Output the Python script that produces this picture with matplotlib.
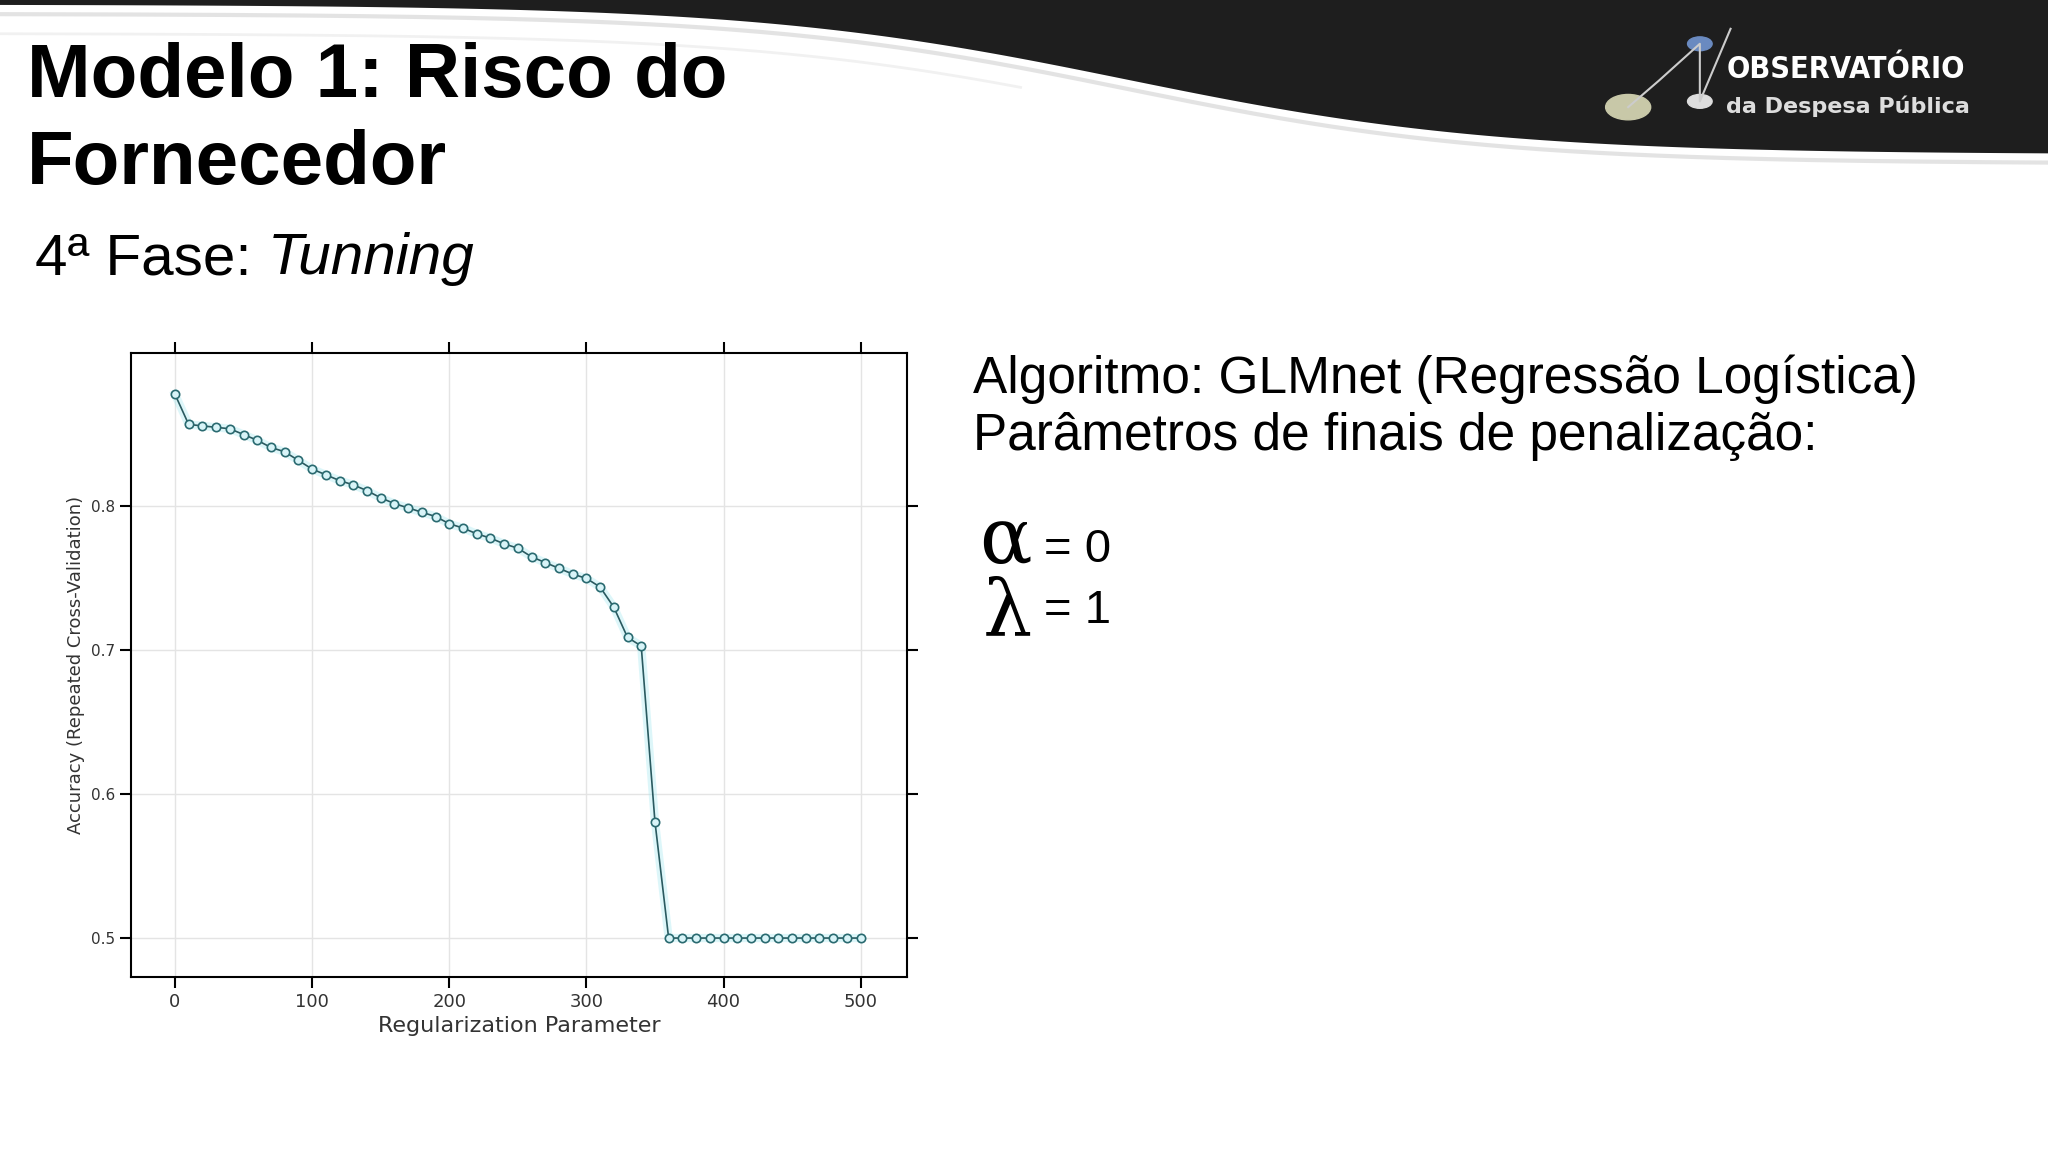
import matplotlib
matplotlib.use("Agg")
import matplotlib.pyplot as plt
import numpy as np
from matplotlib.patches import Polygon, Circle

reg_param = list(range(0, 510, 10))
accuracy = [0.878, 0.857, 0.856, 0.855, 0.854, 0.850, 0.846, 0.841, 0.838, 0.832,
            0.826, 0.822, 0.818, 0.815, 0.811, 0.806, 0.802, 0.799, 0.796, 0.793,
            0.788, 0.785, 0.781, 0.778, 0.774, 0.771, 0.765, 0.761, 0.757, 0.753,
            0.750, 0.744, 0.730, 0.709, 0.703, 0.581] + [0.5] * 15
xticks = [0, 100, 200, 300, 400, 500]
yticks = [0.5, 0.6, 0.7, 0.8]

fig = plt.figure(figsize=(20.48, 11.52), dpi=100)
fig.patch.set_facecolor("white")

# header swoosh
bg = fig.add_axes([0, 0, 1, 1], zorder=-5)
bg.set_xlim(0, 1); bg.set_ylim(0, 1); bg.axis("off")
xs = np.linspace(0, 1, 300)
depth = 0.004 + 0.13 * (1 / (1 + np.exp(-(xs - 0.55) / 0.09)))
lower = 1 - depth
poly = np.column_stack([np.r_[xs, 1, 0], np.r_[lower, 1, 1]])
bg.add_patch(Polygon(poly, closed=True, facecolor="#1e1e1e", edgecolor="none"))
bg.plot(xs, lower - 0.008, color="#c8c8c8", lw=3, alpha=0.5)
bg.plot(xs[:150], lower[:150] - 0.025, color="#dddddd", lw=2, alpha=0.4)
bg.add_patch(Circle((0.795, 0.907), 0.011, color="#c8c8a8"))
bg.add_patch(Circle((0.83, 0.912), 0.006, color="#dddddd"))
bg.add_patch(Circle((0.83, 0.962), 0.006, color="#6a8ac0"))
bg.plot([0.795, 0.81, 0.83, 0.83, 0.845], [0.907, 0.93, 0.962, 0.912, 0.975], color="#cccccc", lw=1.5)
bg.text(0.843, 0.94, "OBSERVATÓRIO", color="white", fontsize=22, fontweight="bold",
        family="Liberation Sans Narrow", va="center", stretch="condensed")
bg.text(0.843, 0.908, "da Despesa Pública", color="#dddddd", fontsize=16, fontweight="bold",
        family="Liberation Sans Narrow", va="center")

fig.text(0.013, 0.895, "Modelo 1: Risco do\nFornecedor", fontsize=55, fontweight="bold",
         family="Liberation Sans", va="center", linespacing=1.3)
t1 = fig.text(0.017, 0.775, "4ª Fase: ", fontsize=42, family="Liberation Sans", va="center")
fig.canvas.draw()
bb = t1.get_window_extent().transformed(fig.transFigure.inverted())
fig.text(bb.x1, 0.775, "Tunning", fontsize=42, family="Liberation Sans", style="italic", va="center")

fig.text(0.475, 0.646, "Algoritmo: GLMnet (Regressão Logística)\nParâmetros de finais de penalização:",
         fontsize=37, family="Liberation Sans", va="center", linespacing=1.2)
fig.text(0.478, 0.53, "α", fontsize=56, family="DejaVu Serif", va="center")
fig.text(0.51, 0.523, "= 0", fontsize=34, family="Liberation Sans", va="center")
fig.text(0.48, 0.468, "λ", fontsize=56, family="DejaVu Serif", va="center")
fig.text(0.51, 0.47, "= 1", fontsize=34, family="Liberation Sans", va="center")

ax = fig.add_axes([0.064, 0.152, 0.379, 0.542])
ax.plot(reg_param, accuracy, color="#a0e8f0", lw=6, alpha=0.35, zorder=1)
ax.plot(reg_param, accuracy, color="#2a5a60", lw=1.2, marker="o", ms=6,
        mfc="#d8f4f8", mec="#2a6a70", mew=1.2)
ax.set_xlim(-32, 534)
ax.set_ylim(0.473, 0.907)
ax.set_xticks(xticks)
ax.set_yticks(yticks)
ax.set_yticklabels(["0.5", "0.6", "0.7", "0.8"], fontsize=11, color="#333")
ax.set_xticklabels([str(t) for t in xticks], fontsize=13, color="#333")
ax.grid(True, color="#e4e4e4", lw=1)
ax.set_axisbelow(True)
ax.tick_params(direction="out", length=8, width=1.5, top=True, right=True,
               labeltop=False, labelright=False)
for s in ax.spines.values():
    s.set_linewidth(1.5)
ax.set_xlabel("Regularization Parameter", fontsize=16, color="#333")
ax.set_ylabel("Accuracy (Repeated Cross-Validation)", fontsize=13, color="#333")

fig.savefig("out.png", dpi=100)
